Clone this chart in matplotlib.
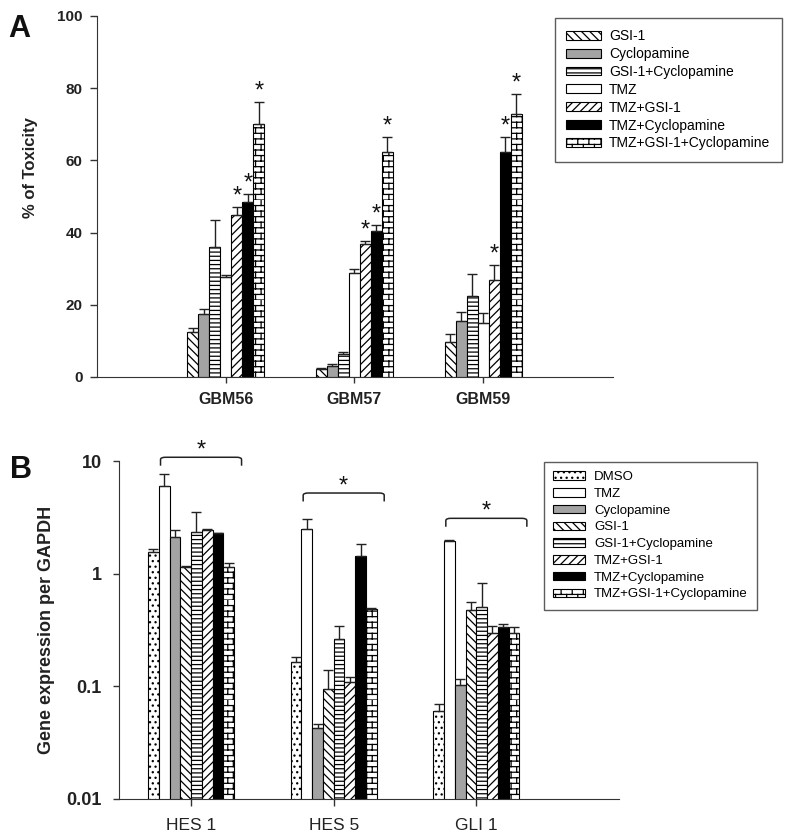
import warnings
import numpy as np
import matplotlib
matplotlib.use("Agg")
import matplotlib.pyplot as plt
import matplotlib.hatch as mhatch
from matplotlib.path import Path

warnings.filterwarnings("ignore", message="hatch must")


# brick hatch ('b') for the TMZ+GSI-1+Cyclopamine bars
class BrickHatch(mhatch.HatchPatternBase):
    def __init__(self, hatch, density):
        n = int(hatch.count('b') * density)
        n += n % 2
        self.rows = n
        self.cols = n // 2
        self.num_vertices = 2 * n + 2 * n * self.cols if n else 0

    def set_vertices_and_codes(self, vertices, codes):
        h = 1.0 / self.rows
        w = 1.0 / self.cols
        k = 0
        for i in range(self.rows):
            y = i * h
            vertices[k] = (0, y)
            vertices[k + 1] = (1, y)
            codes[k] = Path.MOVETO
            codes[k + 1] = Path.LINETO
            k += 2
            off = 0.5 * w * (i % 2)
            for j in range(self.cols):
                x = j * w + off
                vertices[k] = (x, y)
                vertices[k + 1] = (x, y + h)
                codes[k] = Path.MOVETO
                codes[k + 1] = Path.LINETO
                k += 2


mhatch._hatch_types.append(BrickHatch)

plt.rcParams['font.family'] = ['Liberation Sans', 'DejaVu Sans']
plt.rcParams['hatch.linewidth'] = 0.9
plt.rcParams['axes.edgecolor'] = '#333333'

# ---------------- dane: panel A ----------------
lines_A = ['GBM56', 'GBM57', 'GBM59']
treat_A = ['GSI-1', 'Cyclopamine', 'GSI-1+Cyclopamine', 'TMZ', 'TMZ+GSI-1',
           'TMZ+Cyclopamine', 'TMZ+GSI-1+Cyclopamine']
tox_GBM56 = [12.5, 17.5, 36.0, 27.7, 45.0, 48.5, 70.0]
tox_GBM57 = [2.2, 3.0, 6.4, 28.7, 36.8, 40.4, 62.4]
tox_GBM59 = [9.8, 15.6, 22.5, 15.0, 26.8, 62.4, 72.9]
err_GBM56 = [1.2, 1.3, 7.5, 0.5, 2.1, 2.2, 6.3]
err_GBM57 = [0.3, 0.6, 0.6, 1.1, 0.8, 1.6, 4.0]
err_GBM59 = [2.1, 2.4, 6.0, 2.8, 4.2, 4.0, 5.5]
star_A = [4, 5, 6]  # zabiegi oznaczone gwiazdką

# ---------------- dane: panel B ----------------
genes_B = ['HES 1', 'HES 5', 'GLI 1']
treat_B = ['DMSO', 'TMZ', 'Cyclopamine', 'GSI-1', 'GSI-1+Cyclopamine',
           'TMZ+GSI-1', 'TMZ+Cyclopamine', 'TMZ+GSI-1+Cyclopamine']
expr_HES1 = [1.55, 6.0, 2.1, 1.14, 2.36, 2.44, 2.28, 1.15]
expr_HES5 = [0.166, 2.48, 0.0425, 0.095, 0.265, 0.109, 1.43, 0.49]
expr_GLI1 = [0.061, 1.96, 0.103, 0.48, 0.51, 0.295, 0.334, 0.30]
err_HES1 = [0.11, 1.7, 0.34, 0.02, 1.2, 0.03, 0.02, 0.09]
err_HES5 = [0.017, 0.57, 0.0035, 0.045, 0.075, 0.013, 0.39, 0.005]
err_GLI1 = [0.008, 0.02, 0.013, 0.085, 0.32, 0.045, 0.026, 0.034]
bracket_top = [10.8, 5.2, 3.1]

# wygląd zabiegów
style = {
    'DMSO': dict(color='white', hatch='...'),
    'GSI-1': dict(color='white', hatch='\\\\\\\\'),
    'Cyclopamine': dict(color='#a3a3a3', hatch=None),
    'GSI-1+Cyclopamine': dict(color='white', hatch='----'),
    'TMZ': dict(color='white', hatch=None),
    'TMZ+GSI-1': dict(color='white', hatch='////'),
    'TMZ+Cyclopamine': dict(color='black', hatch=None),
    'TMZ+GSI-1+Cyclopamine': dict(color='white', hatch='bbb'),
}

fig = plt.figure(figsize=(7.94, 8.39), dpi=100)

# ================= Panel A =================
axA = fig.add_axes([0.1222, 0.5507, 0.650, 0.4303])
vals_A = np.array([tox_GBM56, tox_GBM57, tox_GBM59])
errs_A = np.array([err_GBM56, err_GBM57, err_GBM59])
xA = np.arange(len(lines_A))
wA = 0.0855
for i, t in enumerate(treat_A):
    pos = xA + (i - 3) * wA
    axA.bar(pos, vals_A[:, i], wA, facecolor=style[t]['color'],
            hatch=style[t]['hatch'], edgecolor='black', linewidth=0.8, label=t)
    axA.errorbar(pos, vals_A[:, i], yerr=[np.zeros(3), errs_A[:, i]], fmt='none',
                 ecolor='#222222', elinewidth=1, capsize=3.6, capthick=1)
    if i in star_A:
        for p, v, e in zip(pos, vals_A[:, i], errs_A[:, i]):
            axA.text(p, v + e + 1.2, '*', ha='center', va='baseline',
                     fontsize=17, color='#111111')

axA.set_xlim(-1.0, 3.01)
axA.set_ylim(0, 100)
axA.set_yticks([0, 20, 40, 60, 80, 100])
axA.set_xticks(xA)
axA.set_xticklabels(lines_A, fontsize=11.5, fontweight='bold', color='#222222')
for lab in axA.get_yticklabels():
    lab.set_family(['Liberation Sans Narrow', 'Liberation Sans'])
    lab.set_fontsize(11)
    lab.set_fontweight('bold')
axA.tick_params(axis='y', direction='out', length=5, width=1, pad=5.5, colors='#333333')
axA.tick_params(axis='x', direction='out', length=4, width=1, pad=7, colors='#333333')
for lab in axA.get_xticklabels() + axA.get_yticklabels():
    lab.set_color('#222222')
axA.spines['top'].set_visible(False)
axA.spines['right'].set_visible(False)
axA.set_ylabel('% of Toxicity', fontsize=12, fontweight='bold', color='#222222')
axA.yaxis.set_label_coords(-0.115, 0.58)

legA = axA.legend(loc='upper left', bbox_to_anchor=(555 / 794, 1 - 18 / 839),
                  bbox_transform=fig.transFigure, fontsize=10, frameon=True,
                  fancybox=False, edgecolor='#333333', borderpad=0.8,
                  labelspacing=0.28, handlelength=2.5, handleheight=0.6,
                  handletextpad=0.6, borderaxespad=0)
legA.get_frame().set_linewidth(1.0)

# ================= Panel B =================
axB = fig.add_axes([0.1499, 0.0477, 0.6297, 0.4028])
vals_B = np.array([expr_HES1, expr_HES5, expr_GLI1])
errs_B = np.array([err_HES1, err_HES5, err_GLI1])
xB = np.arange(len(genes_B))
wB = 0.0754
axB.set_yscale('log')
for i, t in enumerate(treat_B):
    pos = xB + (i - 3.5) * wB
    axB.bar(pos, vals_B[:, i], wB, facecolor=style[t]['color'],
            hatch=style[t]['hatch'], edgecolor='black', linewidth=0.8, label=t)
    axB.errorbar(pos, vals_B[:, i], yerr=[np.zeros(3), errs_B[:, i]], fmt='none',
                 ecolor='#222222', elinewidth=1, capsize=3.6, capthick=1)

# klamry z gwiazdką
for g, top in zip(xB, bracket_top):
    c = g + 0.07
    x0, x1 = c - 0.284, c + 0.284
    r = 0.035
    drop = top / 10 ** 0.075
    knee = top / 10 ** 0.02
    verts = [(x0, drop), (x0, knee), (x0, top), (x0 + r, top),
             (x1 - r, top), (x1, top), (x1, knee), (x1, drop)]
    codes = [Path.MOVETO, Path.LINETO, Path.CURVE3, Path.CURVE3,
             Path.LINETO, Path.CURVE3, Path.CURVE3, Path.LINETO]
    pp = matplotlib.patches.PathPatch(Path(verts, codes), facecolor='none',
                                      edgecolor='#222222', linewidth=1.1,
                                      clip_on=False)
    axB.add_patch(pp)
    axB.text(c, top * 10 ** 0.005, '*', ha='center', va='baseline',
             fontsize=17, color='#111111', clip_on=False)

axB.set_xlim(-0.505, 3.0)
axB.set_ylim(0.01, 10)
axB.set_yticks([0.01, 0.1, 1, 10])
axB.set_yticklabels(['0.01', '0.1', '1', '10'], fontsize=13, fontweight='bold')
axB.yaxis.set_minor_locator(matplotlib.ticker.NullLocator())
axB.set_xticks(xB)
axB.set_xticklabels(genes_B, fontsize=12.5)
axB.tick_params(axis='y', direction='out', length=4, width=1, pad=8.5, colors='#333333')
axB.tick_params(axis='x', direction='out', length=5, width=1, pad=8.5, colors='#333333')
for lab in axB.get_xticklabels() + axB.get_yticklabels():
    lab.set_color('#222222')
axB.spines['top'].set_visible(False)
axB.spines['right'].set_visible(False)
axB.set_ylabel('Gene expression per GAPDH', fontsize=13, fontweight='bold',
               color='#222222')
axB.yaxis.set_label_coords(-0.128, 0.5)

legB = axB.legend(loc='upper left', bbox_to_anchor=(544 / 794, 1 - 462 / 839),
                  bbox_transform=fig.transFigure, fontsize=9.5, frameon=True,
                  fancybox=False, edgecolor='#333333', borderpad=0.7,
                  labelspacing=0.36, handlelength=2.4, handleheight=0.6,
                  handletextpad=0.7, borderaxespad=0)
legB.get_frame().set_linewidth(1.0)

# litery paneli
fig.text(0.010, 0.983, 'A', fontsize=22, fontweight='bold', va='top', color='#111111')
fig.text(0.012, 0.458, 'B', fontsize=22, fontweight='bold', va='top', color='#111111')

fig.savefig('out.png', dpi=100)
